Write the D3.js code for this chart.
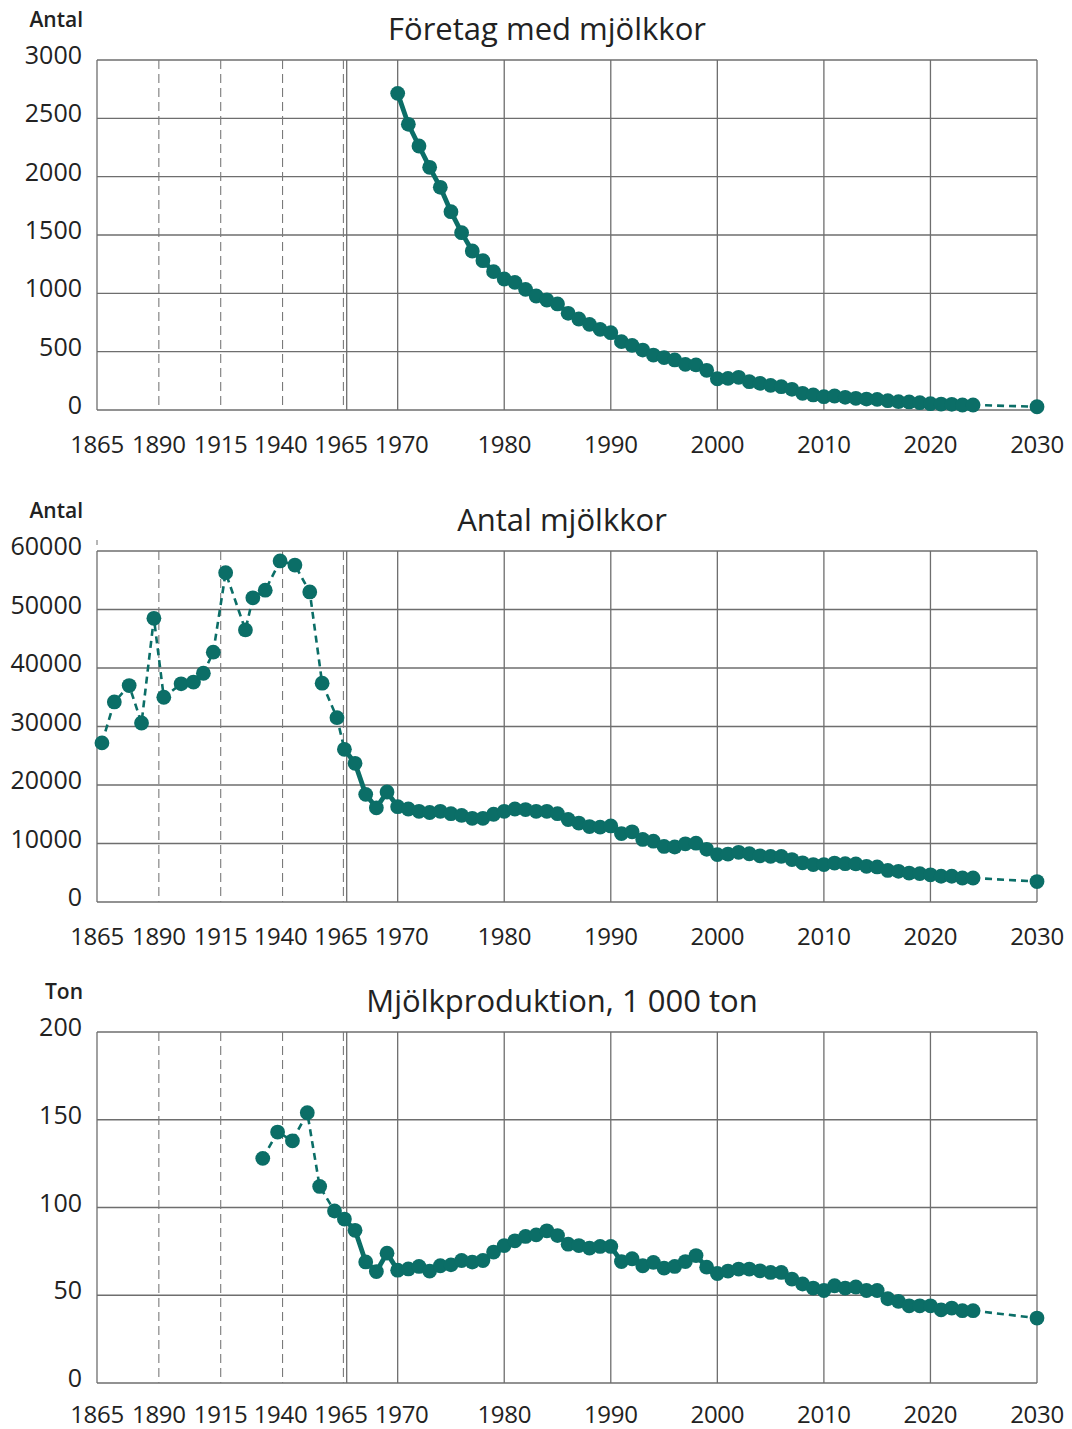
<!DOCTYPE html>
<html>
<head>
<meta charset="utf-8">
<script src="https://cdn.jsdelivr.net/npm/d3@7"></script>
<style>
  body { margin: 0; background: #fff; }
  svg { display: block; font-family: "Open Sans", sans-serif; }
</style>
</head>
<body>
<div id="chart"></div>
<script>
var svgWidth = 1072;
var svgHeight = 1429;

// x axis tick labels (the axis is broken: 1865-1965 compressed, 1965-2030 annual)
var xTicksOld = [1865, 1890, 1915, 1940, 1965];
var xTicksNew = [1970, 1980, 1990, 2000, 2010, 2020, 2030];

// Företag med mjölkkor
var foretagYears = [1970, 1971, 1972, 1973, 1974, 1975, 1976, 1977, 1978, 1979,
    1980, 1981, 1982, 1983, 1984, 1985, 1986, 1987, 1988, 1989,
    1990, 1991, 1992, 1993, 1994, 1995, 1996, 1997, 1998, 1999,
    2000, 2001, 2002, 2003, 2004, 2005, 2006, 2007, 2008, 2009,
    2010, 2011, 2012, 2013, 2014, 2015, 2016, 2017, 2018, 2019,
    2020, 2021, 2022, 2023, 2024, 2030];
var foretagValues = [2714, 2449, 2263, 2080, 1909, 1700, 1520, 1363, 1280, 1186,
    1123, 1094, 1034, 977, 943, 909, 829, 780, 734, 691,
    663, 586, 554, 514, 471, 449, 429, 391, 386, 340,
    268, 271, 280, 243, 229, 211, 200, 177, 143, 129,
    114, 120, 109, 100, 94, 91, 80, 71, 69, 63,
    54, 51, 49, 43, 43, 28];
var foretagTicks = [0, 500, 1000, 1500, 2000, 2500, 3000];

// Antal mjölkkor
var korYears = [1867, 1872, 1878, 1883, 1888, 1892, 1899, 1904, 1908, 1912,
    1917, 1925, 1928, 1933, 1939, 1945, 1951, 1956, 1962,
    1965, 1966, 1967, 1968, 1969,
    1970, 1971, 1972, 1973, 1974, 1975, 1976, 1977, 1978, 1979,
    1980, 1981, 1982, 1983, 1984, 1985, 1986, 1987, 1988, 1989,
    1990, 1991, 1992, 1993, 1994, 1995, 1996, 1997, 1998, 1999,
    2000, 2001, 2002, 2003, 2004, 2005, 2006, 2007, 2008, 2009,
    2010, 2011, 2012, 2013, 2014, 2015, 2016, 2017, 2018, 2019,
    2020, 2021, 2022, 2023, 2024, 2030];
var korValues = [27200, 34200, 37000, 30600, 48500, 35000, 37300, 37600, 39100, 42700,
    56300, 46500, 52000, 53300, 58300, 57600, 53000, 37400, 31500,
    26100, 23700, 18400, 16100, 18800,
    16300, 15900, 15500, 15300, 15500, 15100, 14800, 14300, 14300, 15000,
    15500, 15900, 15800, 15500, 15500, 15100, 14100, 13500, 12900, 12800,
    13000, 11700, 12000, 10700, 10400, 9500, 9400, 9950, 10050, 9000,
    8100, 8200, 8500, 8250, 7900, 7800, 7800, 7250, 6700, 6400,
    6400, 6650, 6550, 6500, 6100, 6000, 5400, 5250, 4950, 4850,
    4650, 4400, 4400, 4100, 4100, 3500];
var korTicks = [0, 10000, 20000, 30000, 40000, 50000, 60000];

// Mjölkproduktion, 1 000 ton
var mjolkYears = [1932, 1938, 1944, 1950, 1955, 1961,
    1965, 1966, 1967, 1968, 1969,
    1970, 1971, 1972, 1973, 1974, 1975, 1976, 1977, 1978, 1979,
    1980, 1981, 1982, 1983, 1984, 1985, 1986, 1987, 1988, 1989,
    1990, 1991, 1992, 1993, 1994, 1995, 1996, 1997, 1998, 1999,
    2000, 2001, 2002, 2003, 2004, 2005, 2006, 2007, 2008, 2009,
    2010, 2011, 2012, 2013, 2014, 2015, 2016, 2017, 2018, 2019,
    2020, 2021, 2022, 2023, 2024, 2030];
var mjolkValues = [128, 143, 138, 154, 112, 98,
    93.4, 87, 69, 63.5, 74,
    64.3, 65, 66.4, 63.8, 66.8, 67.3, 69.8, 68.9, 69.8, 74.6,
    78.3, 81, 83.5, 84.4, 86.7, 84, 79.1, 78.3, 76.9, 77.8,
    77.8, 69.2, 70.8, 66.8, 68.7, 65.5, 66.4, 69.2, 72.6, 66,
    62.4, 63.8, 64.9, 64.9, 63.9, 63, 63, 59.2, 56.4, 54.1,
    52.7, 55.4, 54.1, 54.7, 52.7, 52.7, 48, 46.5, 44, 44,
    44, 41.7, 42.7, 41.2, 41.2, 37];
var mjolkTicks = [0, 50, 100, 150, 200];

var teal = "#0b6e67";
var gridColor = "#6e6e6e";
var textColor = "#222";

// small nudges so the crowded labels on the compressed part do not touch
var labelNudge = { 1940: -2, 1965: -3.5, 1970: 4 };

var svg = d3.select("#chart")
    .append("svg")
    .attr("width", svgWidth)
    .attr("height", svgHeight);

// piecewise x scale for the broken axis
var xScale = d3.scaleLinear()
    .domain([1865, 1965, 2030])
    .range([97, 344.4, 1037]);

function drawPanel(opt) {
    var yScale = d3.scaleLinear()
        .domain([0, d3.max(opt.ticks)])
        .range([opt.bottom, opt.top]);

    var g = svg.append("g");

    // horizontal grid
    g.selectAll(".hgrid")
        .data(opt.ticks)
        .enter()
        .append("line")
        .attr("x1", xScale(1865))
        .attr("x2", xScale(2030))
        .attr("y1", d => yScale(d))
        .attr("y2", d => yScale(d))
        .attr("stroke", gridColor)
        .attr("stroke-width", 1.3);

    // dashed grid on the compressed part
    g.selectAll(".vdash")
        .data(xTicksOld.slice(1))
        .enter()
        .append("line")
        .attr("x1", d => xScale(d) - (d === 1965 ? 1 : 0))
        .attr("x2", d => xScale(d) - (d === 1965 ? 1 : 0))
        .attr("y1", opt.top)
        .attr("y2", opt.bottom)
        .attr("stroke", "#7a7a7a")
        .attr("stroke-width", 1.1)
        .attr("stroke-dasharray", "9,5");

    // frame sides + annual grid
    var solidX = [1865].concat(xTicksNew);
    g.selectAll(".vsolid")
        .data(solidX)
        .enter()
        .append("line")
        .attr("x1", d => xScale(d))
        .attr("x2", d => xScale(d))
        .attr("y1", opt.top)
        .attr("y2", opt.bottom)
        .attr("stroke", gridColor)
        .attr("stroke-width", 1.3);

    // solid break line just after the dashed 1965 line
    g.append("line")
        .attr("x1", xScale(1965) + 2.3)
        .attr("x2", xScale(1965) + 2.3)
        .attr("y1", opt.top)
        .attr("y2", opt.bottom)
        .attr("stroke", gridColor)
        .attr("stroke-width", 1.3);

    if (opt.stub) {
        g.append("line")
            .attr("x1", xScale(1865))
            .attr("x2", xScale(1865))
            .attr("y1", opt.top - 11)
            .attr("y2", opt.top - 6)
            .attr("stroke", gridColor)
            .attr("stroke-width", 1);
    }

    // y tick labels
    g.selectAll(".ylab")
        .data(opt.ticks)
        .enter()
        .append("text")
        .attr("x", 82)
        .attr("y", d => yScale(d) + 4)
        .attr("text-anchor", "end")
        .attr("font-size", "25px")
        .attr("fill", textColor)
        .text(d => d);

    // x tick labels
    g.selectAll(".xlab")
        .data(xTicksOld.concat(xTicksNew))
        .enter()
        .append("text")
        .attr("x", d => xScale(d) + (labelNudge[d] || 0))
        .attr("y", opt.bottom + opt.xLabelGap)
        .attr("text-anchor", "middle")
        .attr("font-size", "24px")
        .attr("letter-spacing", "-0.3px")
        .attr("fill", textColor)
        .text(d => d);

    // unit label
    g.append("text")
        .attr("x", 83)
        .attr("y", opt.top - 33)
        .attr("text-anchor", "end")
        .attr("font-size", "21px")
        .attr("font-weight", 600)
        .attr("fill", textColor)
        .text(opt.unit);

    // title
    g.append("text")
        .attr("x", opt.titleX)
        .attr("y", opt.top - 20)
        .attr("text-anchor", "middle")
        .attr("font-size", "31px")
        .attr("fill", textColor)
        .text(opt.title);

    var points = opt.years.map((y, i) => ({ year: y, value: opt.values[i] }));
    var lastReal = 2024;

    var line = d3.line()
        .x(d => xScale(d.year))
        .y(d => yScale(d.value));

    var oldPart = points.filter(d => d.year <= 1965);
    var midPart = points.filter(d => d.year >= 1965 && d.year <= lastReal);
    var newPart = points.filter(d => d.year >= lastReal);

    [oldPart, newPart].forEach(function (part) {
        if (part.length > 1) {
            g.append("path")
                .datum(part)
                .attr("d", line)
                .attr("fill", "none")
                .attr("stroke", teal)
                .attr("stroke-width", 2.6)
                .attr("stroke-dasharray", "7,5");
        }
    });

    g.append("path")
        .datum(midPart)
        .attr("d", line)
        .attr("fill", "none")
        .attr("stroke", teal)
        .attr("stroke-width", 4.8)
        .attr("stroke-linejoin", "round");

    g.selectAll(".dot")
        .data(points)
        .enter()
        .append("circle")
        .attr("cx", d => xScale(d.year))
        .attr("cy", d => yScale(d.value))
        .attr("r", 7.4)
        .attr("fill", teal);
}

drawPanel({
    top: 60, bottom: 410, ticks: foretagTicks,
    years: foretagYears, values: foretagValues,
    unit: "Antal", title: "Företag med mjölkkor", titleX: 547, xLabelGap: 43
});

drawPanel({
    top: 551, bottom: 902, ticks: korTicks,
    years: korYears, values: korValues,
    unit: "Antal", title: "Antal mjölkkor", titleX: 562, stub: true, xLabelGap: 43
});

drawPanel({
    top: 1032, bottom: 1383, ticks: mjolkTicks,
    years: mjolkYears, values: mjolkValues,
    unit: "Ton", title: "Mjölkproduktion, 1 000 ton", titleX: 562, xLabelGap: 40
});
</script>
</body>
</html>
